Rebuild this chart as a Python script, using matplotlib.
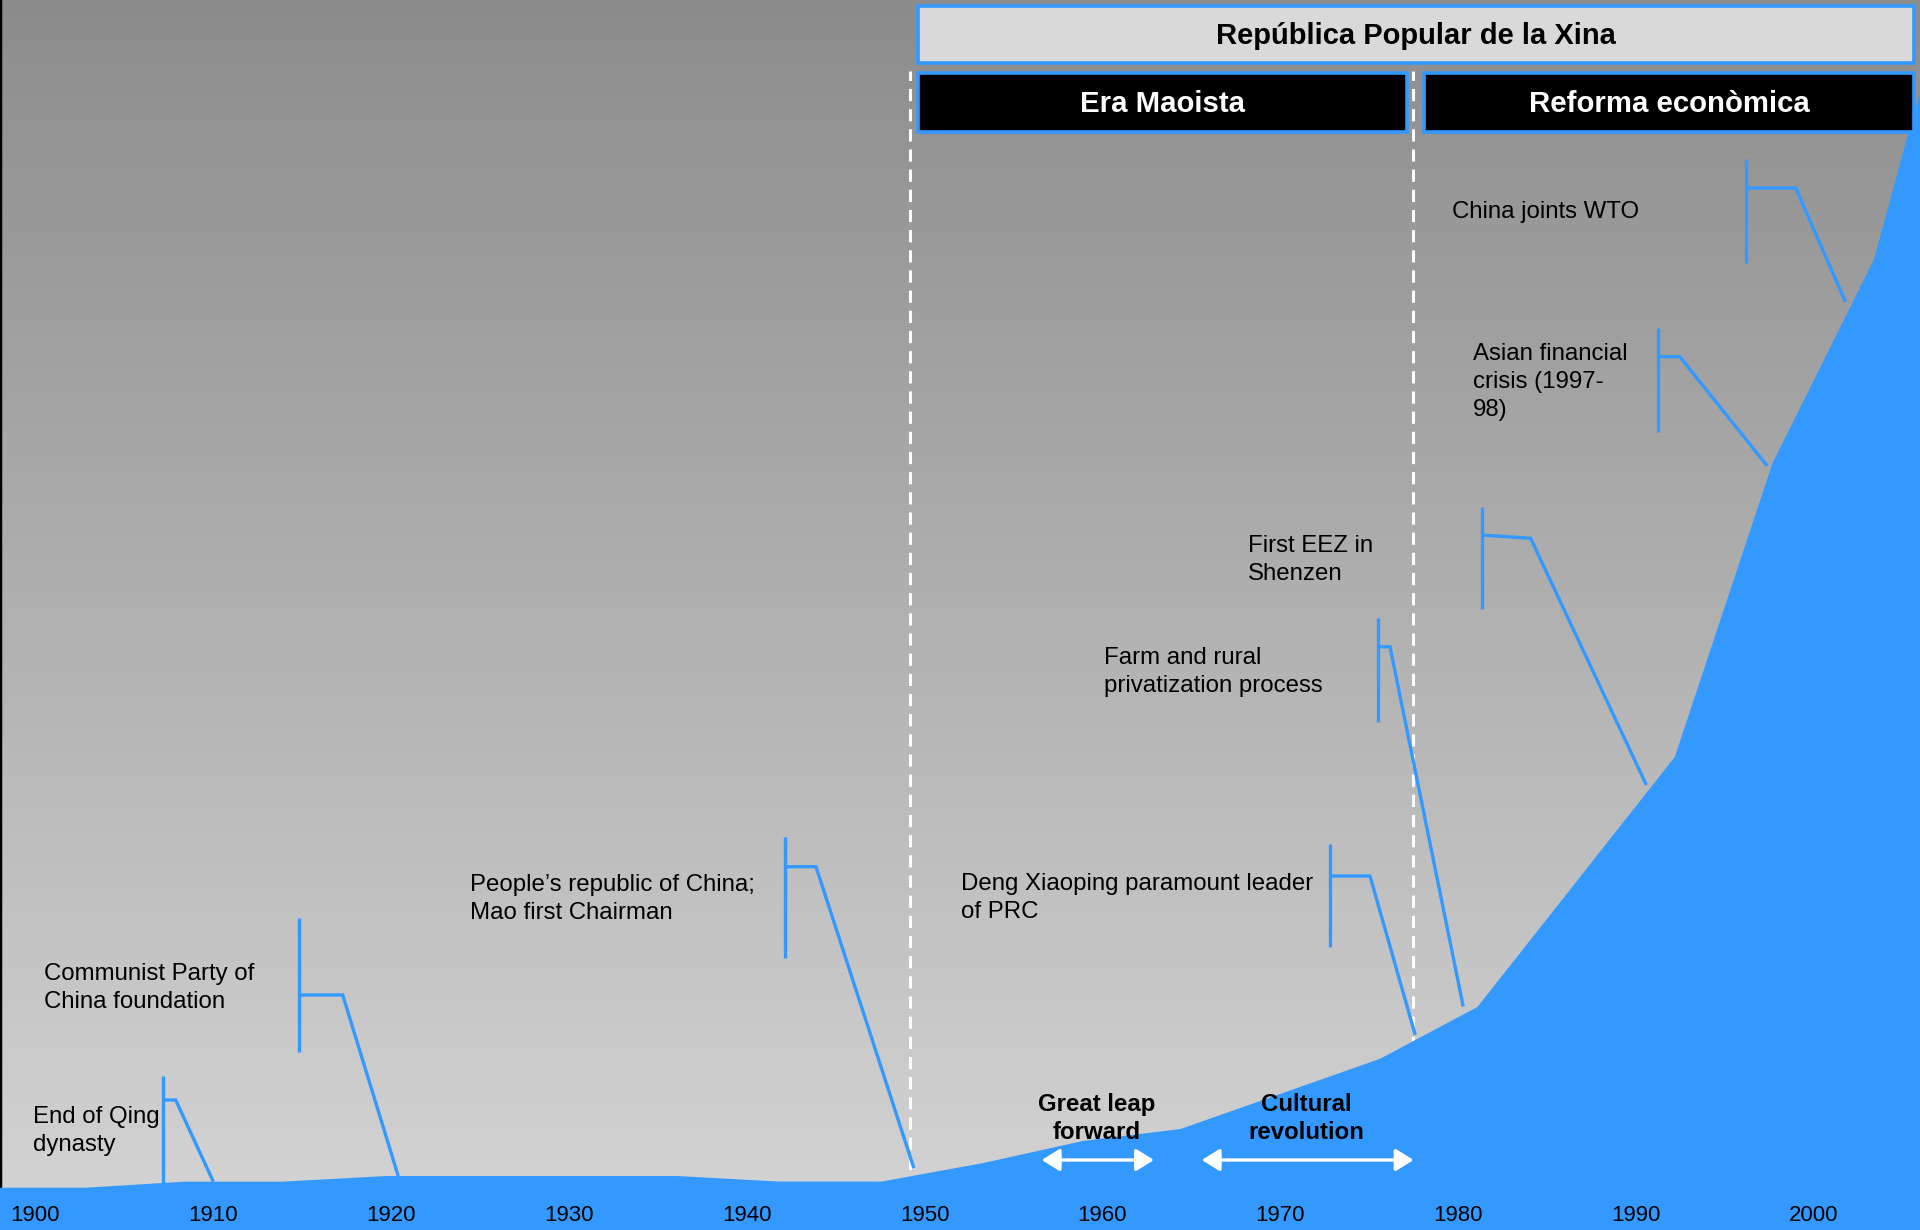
import numpy as np
import matplotlib
matplotlib.use("Agg")
import matplotlib.pyplot as plt
import matplotlib.transforms as mtransforms
from matplotlib.patches import Rectangle

# ---------------- data ----------------
years = [1898.0, 1902.8, 1908.4, 1913.9, 1919.7, 1936.1, 1941.8, 1947.6,
         1953.3, 1958.9, 1964.4, 1975.6, 1981.1, 1992.2, 1997.7, 2003.4,
         2005.4, 2006.0]
gdp_index = [3.84, 3.84, 4.39, 4.39, 4.90, 4.90, 4.40, 4.40,
             6.08, 8.08, 9.17, 15.53, 20.25, 42.95, 69.64, 88.11,
             100.0, 103.3]

tick_years = list(range(1900, 2001, 10))

event_labels = [
    "End of Qing\ndynasty",
    "Communist Party of\nChina foundation",
    "People\u2019s republic of China;\nMao first Chairman",
    "Deng Xiaoping paramount leader\nof PRC",
    "Farm and rural\nprivatization process",
    "First EEZ in\nShenzen",
    "Asian financial\ncrisis (1997-\n98)",
    "China joints WTO",
]
event_tip_year = [1910.0, 1920.4, 1949.4, 1977.6, 1980.3, 1990.6, 1997.4, 2001.8]
event_tip_value = [4.39, 4.90, 5.63, 17.70, 20.29, 40.40, 69.37, 84.26]

period_bounds = [1949.2, 1977.5]
header_top = "Rep\u00fablica Popular de la Xina"
header_periods = ["Era Maoista", "Reforma econ\u00f2mica"]

campaign_labels = ["Great leap\nforward", "Cultural\nrevolution"]
campaign_start = [1956.6, 1965.6]
campaign_end = [1962.9, 1977.5]

# ---------------- layout (pixels, origin top-left) ----------------
W, H = 1920, 1230
BLUE = "#3399ff"
FONT = ["Liberation Sans", "DejaVu Sans"]
plt.rcParams["font.family"] = FONT

# callout geometry: bar x, bar top, bar bottom, elbow y start, elbow x, elbow y end
callouts = [
    (162.7, 1076, 1183, 1100, 175.7, 1100),
    (298.5, 918, 1052, 995, 342.7, 995),
    (785.0, 837, 958, 866.7, 816.0, 866.7),
    (1330.0, 844, 947, 876, 1370.0, 876),
    (1377.7, 617.5, 722, 646.8, 1390.0, 646.8),
    (1481.5, 506.7, 608.6, 535, 1530.6, 538.3),
    (1658.0, 328, 431.7, 356.7, 1679.8, 356.7),
    (1745.7, 159, 262.7, 188, 1795.7, 188),
]
# text: left x, centre y
text_pos = [(32.7, 1131), (44, 988), (470, 899), (960.7, 898),
            (1104, 672), (1248, 560), (1473, 382), (1452, 212)]

fig = plt.figure(figsize=(W / 100, H / 100), dpi=100)
ax = fig.add_axes([0, 0, 1, 1])
px_per_year = 17.78
px_per_unit = 11.014
x0 = 1900 - 35.5 / px_per_year
ax.set_xlim(x0, x0 + W / px_per_year)
ax.set_ylim(0, H / px_per_unit)
ax.axis("off")

# pixel transform (x right, y down from top-left)
pix = mtransforms.Affine2D().scale(1 / 100, -1 / 100).translate(0, H / 100) + fig.dpi_scale_trans

# background gradient
grad = np.linspace(140, 213, 256).reshape(-1, 1) / 255.0
ax.imshow(np.dstack([grad, grad, grad]), extent=[0, 1, 0, 1], transform=ax.transAxes,
          aspect="auto", origin="upper", zorder=0)

# left border
ax.plot([0, 0], [0, 1], transform=ax.transAxes, color="black", lw=2.5, zorder=1)

# period dashed lines
for yb in period_bounds:
    ax.plot([yb, yb], [0, (H - 71) / px_per_unit], color="white", lw=2.2,
            ls=(0, (4, 2.6)), zorder=2)

# area
ax.fill_between(years, gdp_index, 0, color=BLUE, lw=0, zorder=3)

# callouts
for (bx, bt, bb, hy0, hx, hy1), ty, tv in zip(callouts, event_tip_year, event_tip_value):
    ax.plot([bx, bx], [bt, bb], transform=pix, color=BLUE, lw=2.4,
            solid_capstyle="butt", zorder=4)
    tip = ax.transData.transform((ty, tv))
    tip_px = pix.inverted().transform(tip)
    ax.plot([bx, hx, tip_px[0]], [hy0, hy1, tip_px[1]], transform=pix, color=BLUE,
            lw=2.4, solid_joinstyle="miter", solid_capstyle="butt", zorder=4)

for lab, (tx, tyc) in zip(event_labels, text_pos):
    ax.text(tx, tyc, lab, transform=pix, ha="left", va="center", fontsize=17.3,
            color="black", linespacing=1.38, zorder=6)

# campaign arrows and labels
arrow_y = (H - 1160) / px_per_unit
for lab, s, e in zip(campaign_labels, campaign_start, campaign_end):
    ax.annotate("", xy=(e, arrow_y), xytext=(s, arrow_y),
                arrowprops=dict(arrowstyle="<|-|>,head_length=0.4,head_width=0.25",
                                color="white", lw=2.4, mutation_scale=27,
                                shrinkA=0, shrinkB=0), zorder=6)
for lab, cx in zip(campaign_labels, [1096.7, 1306.7]):
    ax.text(cx, 1118.6, lab, transform=pix, ha="center", va="center", fontsize=17.3,
            fontweight="bold", color="black", linespacing=1.3, zorder=6)

# tick labels
for ty in tick_years:
    ax.text(ty, (H - 1215.7) / px_per_unit, str(ty), ha="center", va="center",
            fontsize=16, color="black", zorder=6)

# header boxes
def box(x0p, y0p, x1p, y1p, fc, label, tc, fs):
    r = Rectangle((x0p, y1p), x1p - x0p, -(y1p - y0p), transform=pix, facecolor=fc,
                  edgecolor=BLUE, lw=2.6, zorder=7)
    ax.add_patch(r)
    ax.text((x0p + x1p) / 2, (y0p + y1p) / 2 + 1, label, transform=pix, ha="center",
            va="center", fontsize=fs, fontweight="bold", color=tc, zorder=8)

box(918, 6, 1914, 63, "#d9d9d9", header_top, "black", 21)
box(918, 73, 1407, 132, "black", header_periods[0], "white", 21.2)
box(1424, 73, 1914, 132, "black", header_periods[1], "white", 21.2)

fig.savefig("out.png", dpi=100)
